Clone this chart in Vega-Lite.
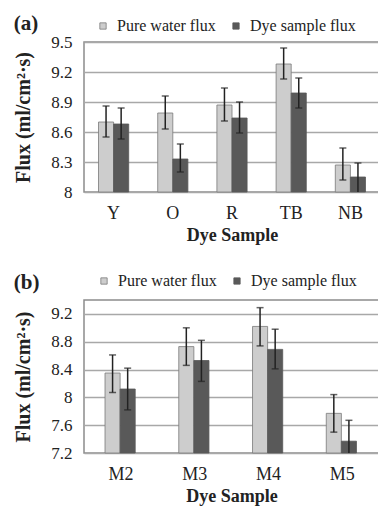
{
  "$schema": "https://vega.github.io/schema/vega-lite/v6.json",
  "padding": {"left": 13, "top": 12, "right": 0, "bottom": 0},
  "spacing": 26,
  "datasets": {
    "a": [
      {"sample": "Y", "series": "Pure water flux", "value": 8.70, "lo": 8.55, "hi": 8.86},
      {"sample": "Y", "series": "Dye sample flux", "value": 8.68, "lo": 8.53, "hi": 8.84},
      {"sample": "O", "series": "Pure water flux", "value": 8.79, "lo": 8.63, "hi": 8.96},
      {"sample": "O", "series": "Dye sample flux", "value": 8.33, "lo": 8.20, "hi": 8.48},
      {"sample": "R", "series": "Pure water flux", "value": 8.87, "lo": 8.71, "hi": 9.04},
      {"sample": "R", "series": "Dye sample flux", "value": 8.74, "lo": 8.59, "hi": 8.90},
      {"sample": "TB", "series": "Pure water flux", "value": 9.28, "lo": 9.13, "hi": 9.44},
      {"sample": "TB", "series": "Dye sample flux", "value": 8.99, "lo": 8.84, "hi": 9.14},
      {"sample": "NB", "series": "Pure water flux", "value": 8.27, "lo": 8.12, "hi": 8.44},
      {"sample": "NB", "series": "Dye sample flux", "value": 8.15, "lo": 7.99, "hi": 8.29}
    ],
    "b": [
      {"sample": "M2", "series": "Pure water flux", "value": 8.35, "lo": 8.07, "hi": 8.61},
      {"sample": "M2", "series": "Dye sample flux", "value": 8.12, "lo": 7.82, "hi": 8.42},
      {"sample": "M3", "series": "Pure water flux", "value": 8.73, "lo": 8.46, "hi": 9.00},
      {"sample": "M3", "series": "Dye sample flux", "value": 8.53, "lo": 8.23, "hi": 8.82},
      {"sample": "M4", "series": "Pure water flux", "value": 9.02, "lo": 8.74, "hi": 9.29},
      {"sample": "M4", "series": "Dye sample flux", "value": 8.69, "lo": 8.41, "hi": 8.98},
      {"sample": "M5", "series": "Pure water flux", "value": 7.77, "lo": 7.50, "hi": 8.04},
      {"sample": "M5", "series": "Dye sample flux", "value": 7.37, "lo": 7.07, "hi": 7.67}
    ]
  },
  "vconcat": [
    {
      "title": {"text": "(a)", "offset": -16},
      "width": 296,
      "height": 150,
      "data": {"name": "a"},
      "encoding": {
        "x": {"field": "sample", "type": "nominal", "sort": ["Y", "O", "R", "TB", "NB"],
              "scale": {"paddingInner": 0.49, "paddingOuter": 0.245},
              "axis": {"title": "Dye Sample"}},
        "xOffset": {"field": "series", "type": "nominal", "sort": ["Pure water flux", "Dye sample flux"]}
      },
      "layer": [
        {
          "mark": {"type": "bar", "strokeWidth": 0.8},
          "encoding": {
            "y": {"field": "value", "type": "quantitative",
                  "scale": {"domain": [8, 9.5], "nice": false, "zero": false},
                  "axis": {"values": [8, 8.3, 8.6, 8.9, 9.2, 9.5], "format": ".1~f", "title": "Flux (ml/cm²·s)"}},
            "y2": {"datum": 8},
            "fill": {"field": "series", "type": "nominal",
                     "scale": {"domain": ["Pure water flux", "Dye sample flux"], "range": ["#cdcdcd", "#595959"]},
                     "legend": {"orient": "none", "legendX": 11, "legendY": -24, "direction": "horizontal", "title": null}},
            "stroke": {"field": "series", "type": "nominal",
                       "scale": {"domain": ["Pure water flux", "Dye sample flux"], "range": ["#7a7a7a", "#595959"]},
                       "legend": null}
          }
        },
        {
          "mark": {"type": "rule", "clip": true, "color": "#222", "strokeWidth": 1.5},
          "encoding": {"y": {"field": "lo", "type": "quantitative", "scale": {"domain": [8, 9.5], "nice": false, "zero": false},
                             "axis": {"values": [8, 8.3, 8.6, 8.9, 9.2, 9.5], "format": ".1~f", "title": "Flux (ml/cm²·s)"}},
                       "y2": {"field": "hi"}}
        },
        {
          "mark": {"type": "tick", "clip": true, "color": "#222", "size": 7, "thickness": 1.5},
          "encoding": {"y": {"field": "lo", "type": "quantitative", "scale": {"domain": [8, 9.5], "nice": false, "zero": false},
                             "axis": {"values": [8, 8.3, 8.6, 8.9, 9.2, 9.5], "format": ".1~f", "title": "Flux (ml/cm²·s)"}}}
        },
        {
          "mark": {"type": "tick", "clip": true, "color": "#222", "size": 7, "thickness": 1.5},
          "encoding": {"y": {"field": "hi", "type": "quantitative", "scale": {"domain": [8, 9.5], "nice": false, "zero": false},
                             "axis": {"values": [8, 8.3, 8.6, 8.9, 9.2, 9.5], "format": ".1~f", "title": "Flux (ml/cm²·s)"}}}
        }
      ]
    },
    {
      "title": {"text": "(b)", "offset": -20},
      "width": 295,
      "height": 153,
      "data": {"name": "b"},
      "encoding": {
        "x": {"field": "sample", "type": "nominal", "sort": ["M2", "M3", "M4", "M5"],
              "scale": {"paddingInner": 0.57, "paddingOuter": 0.285},
              "axis": {"title": "Dye Sample"}},
        "xOffset": {"field": "series", "type": "nominal", "sort": ["Pure water flux", "Dye sample flux"]}
      },
      "layer": [
        {
          "mark": {"type": "bar", "strokeWidth": 0.8},
          "encoding": {
            "y": {"field": "value", "type": "quantitative",
                  "scale": {"domain": [7.2, 9.4], "nice": false, "zero": false},
                  "axis": {"values": [7.2, 7.6, 8, 8.4, 8.8, 9.2], "format": ".1~f", "title": "Flux (ml/cm²·s)"}},
            "y2": {"datum": 7.2},
            "fill": {"field": "series", "type": "nominal",
                     "scale": {"domain": ["Pure water flux", "Dye sample flux"], "range": ["#cdcdcd", "#595959"]},
                     "legend": {"orient": "none", "legendX": 12, "legendY": -27, "direction": "horizontal", "title": null}},
            "stroke": {"field": "series", "type": "nominal",
                       "scale": {"domain": ["Pure water flux", "Dye sample flux"], "range": ["#7a7a7a", "#595959"]},
                       "legend": null}
          }
        },
        {
          "mark": {"type": "rule", "clip": true, "color": "#222", "strokeWidth": 1.5},
          "encoding": {"y": {"field": "lo", "type": "quantitative", "scale": {"domain": [7.2, 9.4], "nice": false, "zero": false},
                             "axis": {"values": [7.2, 7.6, 8, 8.4, 8.8, 9.2], "format": ".1~f", "title": "Flux (ml/cm²·s)"}},
                       "y2": {"field": "hi"}}
        },
        {
          "mark": {"type": "tick", "clip": true, "color": "#222", "size": 7, "thickness": 1.5},
          "encoding": {"y": {"field": "lo", "type": "quantitative", "scale": {"domain": [7.2, 9.4], "nice": false, "zero": false},
                             "axis": {"values": [7.2, 7.6, 8, 8.4, 8.8, 9.2], "format": ".1~f", "title": "Flux (ml/cm²·s)"}}}
        },
        {
          "mark": {"type": "tick", "clip": true, "color": "#222", "size": 7, "thickness": 1.5},
          "encoding": {"y": {"field": "hi", "type": "quantitative", "scale": {"domain": [7.2, 9.4], "nice": false, "zero": false},
                             "axis": {"values": [7.2, 7.6, 8, 8.4, 8.8, 9.2], "format": ".1~f", "title": "Flux (ml/cm²·s)"}}}
        }
      ]
    }
  ],
  "resolve": {"scale": {"fill": "independent", "stroke": "independent"}},
  "config": {
    "font": "Liberation Serif",
    "background": "white",
    "view": {"stroke": "#8c8c8c", "strokeWidth": 1.5},
    "title": {"anchor": "start", "frame": "bounds", "fontSize": 21, "fontWeight": "bold", "color": "#222", "font": "Liberation Serif"},
    "axis": {
      "labelFont": "Liberation Serif", "titleFont": "Liberation Serif",
      "labelColor": "#222", "titleColor": "#222",
      "ticks": false, "domain": false, "grid": false, "labelOverlap": false
    },
    "axisX": {"labelFontSize": 18, "labelAngle": 0, "labelPadding": 12, "titleFontSize": 18, "titleFontWeight": "bold", "titlePadding": 4},
    "axisY": {"labelFontSize": 17, "labelPadding": 12, "titleFontSize": 20, "titleFontWeight": "bold", "titlePadding": 17, "grid": true, "gridColor": "#a8a8a8", "gridWidth": 1.5},
    "legend": {"labelFontSize": 16, "labelColor": "#222", "labelFont": "Liberation Serif", "symbolType": "square", "symbolSize": 40, "symbolStrokeWidth": 0.8, "labelOffset": 6, "columnPadding": 12}
  }
}
